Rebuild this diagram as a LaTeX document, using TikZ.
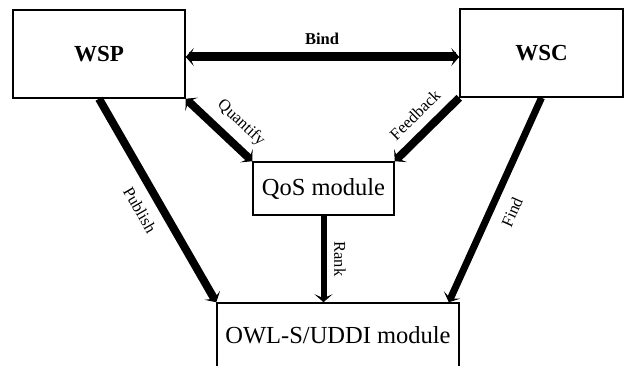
\documentclass[tikz,border=0pt]{standalone}
\usepackage{fontspec}
\setmainfont{Liberation Serif}
\usetikzlibrary{arrows.meta}
\begin{document}
\begin{tikzpicture}[x=1pt,y=1pt,
  box/.style={draw=black, line width=1.5pt, fill=white, inner sep=0pt},
  conn/.style={line width=#1, draw=black, line cap=butt},
  conn/.default=8pt,
  tip/.style={-{Stealth[length=8pt,width=18pt,inset=4pt]}},
  tips/.style={{Stealth[length=8pt,width=18pt,inset=4pt]}-{Stealth[length=8pt,width=18pt,inset=4pt]}},
  lab/.style={font=\fontsize{16.5}{18}\selectfont, inner sep=1pt}
]
\useasboundingbox (0,0) rectangle (630,366);
\fill[white] (0,0) rectangle (630,366);

\node[box, minimum width=172pt, minimum height=88pt, font=\fontsize{23}{25}\selectfont\bfseries] (wsp) at (99,312) {WSP};
\node[box, minimum width=163pt, minimum height=88pt, font=\fontsize{23}{25}\selectfont\bfseries] (wsc) at (541.5,313) {WSC};
\node[box, minimum width=141pt, minimum height=53pt, font=\fontsize{24.5}{26}\selectfont] (qos) at (323.5,177.5) {QoS module};
\node[box, minimum width=242pt, minimum height=64pt, font=\fontsize{24.5}{26}\selectfont] (owl) at (338,31) {OWL-S/UDDI module};

% connectors
\draw[conn=9pt, tips] ([yshift=-3pt]wsp.east) -- ([yshift=-3pt]wsp.east -| wsc.west);
\draw[conn=8pt, tips] (wsp.south east) -- (qos.north west);
\draw[conn=8pt, tip] (wsc.south west) -- (qos.north east);
\draw[conn=8pt, tip] (wsp.south) -- (owl.north west);
\draw[conn=7pt, tip] (wsc.south) -- ([xshift=-11pt]owl.north east);
\draw[conn=6pt, tip] (qos.south) -- (qos.south |- owl.north);

% labels
\node[lab, font=\fontsize{16.5}{18}\selectfont\bfseries] (lbind) at (322,327) {Bind};
\node[lab, rotate=-43] (lquant) at (241,243) {Quantify};
\node[lab, rotate=44.5] (lfeed) at (415,251) {Feedback};
\node[lab, rotate=-60] (lpub) at (140,156) {Publish};
\node[lab, rotate=66] (lfind) at (512,154) {Find};
\node[lab, rotate=-90] (lrank) at (340,107) {Rank};
\end{tikzpicture}
\end{document}
